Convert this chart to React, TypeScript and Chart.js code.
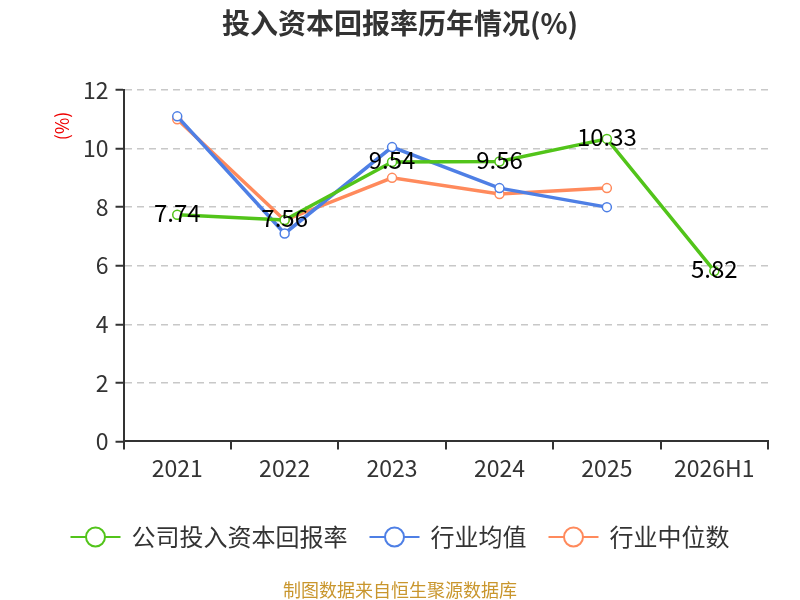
// ROIC history line chart
import React, { useEffect, useRef } from 'react';
import { Chart, registerables } from 'chart.js';

Chart.register(...registerables);

const years = ['2021', '2022', '2023', '2024', '2025', '2026H1'];
const companyRoic = [7.74, 7.56, 9.54, 9.56, 10.33, 5.82];
const industryMean = [11.1, 7.1, 10.05, 8.65, 8.0, null];
const industryMedian = [11.0, 7.55, 9.0, 8.45, 8.65, null];
const seriesNames = ['公司投入资本回报率', '行业均值', '行业中位数'];
const seriesColors = ['#52c41a', '#4e7fe5', '#ff8a5c'];
const yMin = 0;
const yMax = 12;
const yStep = 2;

const FONT = '"Noto Sans CJK SC", "Noto Sans", sans-serif';
const TEXT = '#333';

// title, unit label, value labels, legend and footer drawn by hand
const decorPlugin = {
  id: 'decor',
  afterDatasetsDraw(chart: any) {
    const ctx = chart.ctx;
    const meta = chart.getDatasetMeta(0);
    ctx.save();
    ctx.font = `24px ${FONT}`;
    ctx.fillStyle = '#000';
    ctx.textAlign = 'center';
    ctx.textBaseline = 'middle';
    meta.data.forEach((pt: any, i: number) => {
      const v = companyRoic[i];
      if (v == null) return;
      ctx.fillText(v.toFixed(2), pt.x, pt.y - 2);
    });
    ctx.restore();
  },
  afterDraw(chart: any) {
    const ctx = chart.ctx;
    const area = chart.chartArea;
    ctx.save();

    // title
    ctx.font = `bold 28px ${FONT}`;
    ctx.fillStyle = TEXT;
    ctx.textAlign = 'center';
    ctx.textBaseline = 'middle';
    ctx.fillText('投入资本回报率历年情况(%)', 400, 23);

    // unit
    ctx.save();
    ctx.translate(62, area.top + 36);
    ctx.rotate(-Math.PI / 2);
    ctx.font = `18px ${FONT}`;
    ctx.fillStyle = '#e00';
    ctx.fillText('(%)', 0, 0);
    ctx.restore();

    // legend
    ctx.font = `24px ${FONT}`;
    const markerW = 50;
    const gap = 11;
    const itemGap = 22;
    const widths = seriesNames.map((n) => markerW + gap + ctx.measureText(n).width);
    const total = widths.reduce((a, b) => a + b, 0) + itemGap * (widths.length - 1);
    let x = 400 - total / 2;
    const ly = 537;
    seriesNames.forEach((name, i) => {
      ctx.strokeStyle = seriesColors[i];
      ctx.lineWidth = 2;
      ctx.beginPath();
      ctx.moveTo(x, ly);
      ctx.lineTo(x + markerW, ly);
      ctx.stroke();
      ctx.beginPath();
      ctx.arc(x + markerW / 2, ly, 9.5, 0, Math.PI * 2);
      ctx.fillStyle = '#fff';
      ctx.fill();
      ctx.stroke();
      ctx.fillStyle = TEXT;
      ctx.textAlign = 'left';
      ctx.fillText(name, x + markerW + gap, ly);
      x += widths[i] + itemGap;
    });

    // footer
    ctx.font = `18px ${FONT}`;
    ctx.fillStyle = '#c9962d';
    ctx.textAlign = 'center';
    ctx.fillText('制图数据来自恒生聚源数据库', 400, 590);
    ctx.restore();
  },
};

const RoicChart = () => {
  const chartRef = useRef<HTMLCanvasElement>(null);
  const chartInstanceRef = useRef<Chart | null>(null);

  useEffect(() => {
    const myChartRef = chartRef.current?.getContext('2d');
    if (chartInstanceRef.current) {
      chartInstanceRef.current.destroy();
    }
    if (myChartRef) {
      const series = [companyRoic, industryMean, industryMedian];
      chartInstanceRef.current = new Chart(myChartRef, {
        type: 'line',
        data: {
          labels: years,
          datasets: series.map((d, i) => ({
            label: seriesNames[i],
            data: d,
            borderColor: seriesColors[i],
            backgroundColor: seriesColors[i],
            borderWidth: 3.5,
            pointRadius: 4.5,
            pointBorderWidth: 1.5,
            pointBackgroundColor: '#fff',
            pointBorderColor: seriesColors[i],
            tension: 0,
          })),
        },
        options: {
          animation: false,
          responsive: true,
          maintainAspectRatio: false,
          layout: { padding: { left: 76, right: 32, top: 90, bottom: 113 } },
          plugins: {
            legend: { display: false },
            title: { display: false },
            tooltip: { enabled: false },
          },
          scales: {
            x: {
              offset: true,
              grid: {
                offset: true,
                drawOnChartArea: false,
                drawTicks: true,
                tickLength: 8,
                tickColor: TEXT,
                tickWidth: 2,
                lineWidth: 2,
                color: TEXT,
              },
              border: { color: TEXT, width: 2 },
              ticks: { color: TEXT, font: { size: 23, family: FONT }, padding: 5 },
            },
            y: {
              min: yMin,
              max: yMax,
              ticks: { stepSize: yStep, color: TEXT, font: { size: 23, family: FONT }, padding: 7 },
              grid: {
                color: (c: any) => (c.tick && c.tick.value === 0 ? 'rgba(0,0,0,0)' : '#c8c8c8'),
                lineWidth: 1.5,
                tickLength: 8,
                tickColor: TEXT,
                tickWidth: 2,
              },
              border: { color: TEXT, width: 2, dash: [7, 5] },
            },
          },
        },
        plugins: [decorPlugin],
      });
    }
    return () => {
      if (chartInstanceRef.current) {
        chartInstanceRef.current.destroy();
        chartInstanceRef.current = null;
      }
    };
  }, []);

  return (
    <div style={{ position: 'absolute', left: 0, top: 0, width: '800px', height: '600px' }}>
      <canvas ref={chartRef} />
    </div>
  );
};

export default function App() {
  return <RoicChart />;
}
